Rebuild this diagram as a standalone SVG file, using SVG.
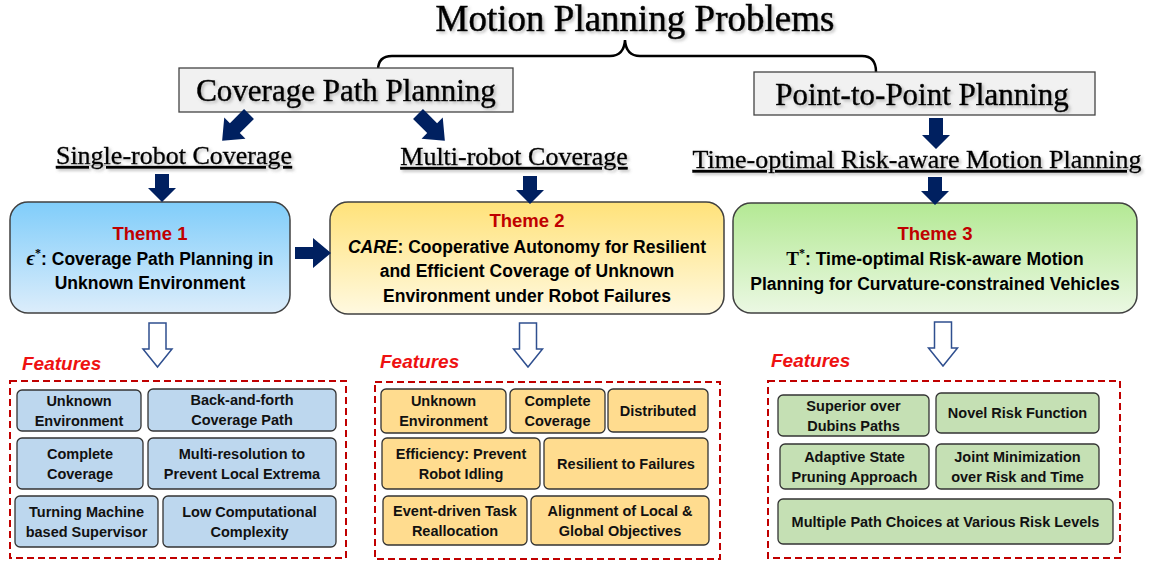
<svg xmlns="http://www.w3.org/2000/svg" width="1157" height="561" viewBox="0 0 1157 561">
<defs>
  <linearGradient id="gBlue" x1="0" y1="0" x2="0" y2="1">
    <stop offset="0" stop-color="#80cdfa"/><stop offset="1" stop-color="#dcedfb"/>
  </linearGradient>
  <linearGradient id="gYellow" x1="0" y1="0" x2="0" y2="1">
    <stop offset="0" stop-color="#ffe27a"/><stop offset="1" stop-color="#fff9e0"/>
  </linearGradient>
  <linearGradient id="gGreen" x1="0" y1="0" x2="0" y2="1">
    <stop offset="0" stop-color="#b4e994"/><stop offset="1" stop-color="#ebf8e3"/>
  </linearGradient>
  <filter id="shadow" x="-5%" y="-20%" width="115%" height="150%">
    <feDropShadow dx="2" dy="2" stdDeviation="1.5" flood-color="#777" flood-opacity="0.45"/>
  </filter>
  <polygon id="darrow" points="-7,0 7,0 7,14 14,14 0,28 -14,14 -7,14"/>
  <polygon id="hollow" points="-8.5,0 8.5,0 8.5,26 14.5,26 0,44 -14.5,26 -8.5,26"/>
</defs>
<style>
  .serif { font-family: "Liberation Serif", "Times New Roman", serif; fill: #000; stroke: #000; stroke-width: 0.6; }
  .hdr { font-family: "Liberation Serif", serif; font-size: 31px; text-anchor: middle; stroke: #000; stroke-width: 0.5; }
  .sub { font-family: "Liberation Serif", serif; font-size: 26px; text-anchor: middle; text-decoration: underline; stroke: #000; stroke-width: 0.4; }
  .cat { fill: #f1f1f1; stroke: #444; stroke-width: 1.3; }
  .navy { fill: #002060; }
  .hol { fill: #fff; stroke: #2f4f8f; stroke-width: 1.5; }
  .theme { stroke: #404040; stroke-width: 1.5; }
  .tt { font-family: "Liberation Sans", Arial, sans-serif; font-weight: bold; font-size: 17.5px; text-anchor: middle; fill: #000; }
  .tl { fill: #c00000; font-size: 18.5px; }
  .feat { font-family: "Liberation Sans", Arial, sans-serif; font-weight: bold; font-style: italic; font-size: 19px; fill: #ee1111; }
  .dash { fill: none; stroke: #c00000; stroke-width: 2; stroke-dasharray: 7 4; }
  .fb { stroke: #333; stroke-width: 1.3; }
  .blue { fill: #bdd7ee; }
  .yel { fill: #ffdc8f; }
  .grn { fill: #c5e0b4; }
  .ft { font-family: "Liberation Sans", Arial, sans-serif; font-weight: bold; font-size: 14.5px; text-anchor: middle; fill: #111; }
</style>

<g id="title">
  <text x="635" y="31" class="serif" font-size="37" text-anchor="middle" filter="url(#shadow)">Motion Planning Problems</text>
  <path d="M378,70 Q378,56 392,56 L610,56 Q624,56 625,40 Q626,56 640,56 L862,56 Q876,56 876,72" fill="none" stroke="#000" stroke-width="2.5"/>
</g>

<g id="coverage-path-planning">
  <rect x="179" y="68" width="334" height="44" class="cat"/>
  <text x="346" y="101" class="hdr" filter="url(#shadow)">Coverage Path Planning</text>
</g>
<g id="point-to-point-planning">
  <rect x="754" y="72" width="341" height="43" class="cat"/>
  <text x="922" y="105" class="hdr" filter="url(#shadow)">Point-to-Point Planning</text>
</g>

<g id="single-robot"><text x="174" y="164" class="sub" filter="url(#shadow)">Single-robot Coverage</text></g>
<g id="multi-robot"><text x="514" y="165" class="sub" filter="url(#shadow)">Multi-robot Coverage</text></g>
<g id="time-optimal"><text x="917" y="168" class="sub" filter="url(#shadow)">Time-optimal Risk-aware Motion Planning</text></g>

<g id="theme1">
  <rect x="10" y="202" width="280" height="111" rx="18" fill="url(#gBlue)" class="theme"/>
  <text x="150" y="240" class="tt tl">Theme 1</text>
  <text x="150" y="265" class="tt"><tspan font-family="Liberation Serif, serif" font-style="italic" font-size="20">ϵ</tspan><tspan font-family="Liberation Serif, serif" font-size="12" dy="-8">*</tspan><tspan dy="8">: Coverage Path Planning in</tspan></text>
  <text x="150" y="289" class="tt">Unknown Environment</text>
</g>
<g id="theme2">
  <rect x="330" y="202" width="394" height="112" rx="18" fill="url(#gYellow)" class="theme"/>
  <text x="527" y="227" class="tt tl">Theme 2</text>
  <text x="527" y="253" class="tt"><tspan font-style="italic">CARE</tspan>: Cooperative Autonomy for Resilient</text>
  <text x="527" y="277" class="tt">and Efficient Coverage of Unknown</text>
  <text x="527" y="302" class="tt">Environment under Robot Failures</text>
</g>
<g id="theme3">
  <rect x="733" y="203" width="404" height="110" rx="18" fill="url(#gGreen)" class="theme"/>
  <text x="935" y="240" class="tt tl">Theme 3</text>
  <text x="935" y="265" class="tt"><tspan font-family="Liberation Serif, serif" font-size="19">T</tspan><tspan font-family="Liberation Serif, serif" font-size="12" dy="-8">*</tspan><tspan dy="8">: Time-optimal Risk-aware Motion</tspan></text>
  <text x="935" y="290" class="tt">Planning for Curvature-constrained Vehicles</text>
</g>

<g id="connectors">
  <polygon class="navy" transform="translate(249,114) rotate(45)" points="-7,0 7,0 7,20 15,20 0,38 -15,20 -7,20"/>
  <polygon class="navy" transform="translate(418,114) rotate(-45)" points="-7,0 7,0 7,20 15,20 0,38 -15,20 -7,20"/>
  <polygon class="navy" points="929,118 943,118 943,135 950,135 936,149 922,135 929,135"/>
  <use href="#darrow" class="navy" x="162" y="174"/>
  <use href="#darrow" class="navy" x="530" y="176"/>
  <use href="#darrow" class="navy" x="935" y="177"/>
  <polygon class="navy" points="295,247 313,247 313,238 331,253 313,268 313,259 295,259"/>
  <use href="#hollow" class="hol" x="157.5" y="323"/>
  <use href="#hollow" class="hol" x="528" y="323"/>
  <use href="#hollow" class="hol" x="943" y="322"/>
</g>

<g id="features1">
  <text x="22" y="370" class="feat">Features</text>
  <rect x="10" y="381" width="336" height="177" class="dash"/>
  <rect x="17" y="390" width="124" height="41" rx="5" class="fb blue"/>
  <text x="79" y="406" class="ft">Unknown</text><text x="79" y="426" class="ft">Environment</text>
  <rect x="148" y="389" width="188" height="42" rx="5" class="fb blue"/>
  <text x="242" y="405" class="ft">Back-and-forth</text><text x="242" y="425" class="ft">Coverage Path</text>
  <rect x="17" y="438" width="126" height="51" rx="5" class="fb blue"/>
  <text x="80" y="459" class="ft">Complete</text><text x="80" y="479" class="ft">Coverage</text>
  <rect x="148" y="438" width="188" height="51" rx="5" class="fb blue"/>
  <text x="242" y="459" class="ft">Multi-resolution to</text><text x="242" y="479" class="ft">Prevent Local Extrema</text>
  <rect x="15" y="496" width="143" height="51" rx="5" class="fb blue"/>
  <text x="86.5" y="517" class="ft">Turning Machine</text><text x="86.5" y="537" class="ft">based Supervisor</text>
  <rect x="163" y="496" width="173" height="51" rx="5" class="fb blue"/>
  <text x="249.5" y="517" class="ft">Low Computational</text><text x="249.5" y="537" class="ft">Complexity</text>
</g>

<g id="features2">
  <text x="380" y="368" class="feat">Features</text>
  <rect x="375" y="382" width="345" height="177" class="dash"/>
  <rect x="381" y="389" width="125" height="44" rx="5" class="fb yel"/>
  <text x="443.5" y="406" class="ft">Unknown</text><text x="443.5" y="426" class="ft">Environment</text>
  <rect x="510" y="389" width="95" height="44" rx="5" class="fb yel"/>
  <text x="557.5" y="406" class="ft">Complete</text><text x="557.5" y="426" class="ft">Coverage</text>
  <rect x="608" y="389" width="100" height="43" rx="5" class="fb yel"/>
  <text x="658" y="416" class="ft">Distributed</text>
  <rect x="382" y="438" width="158" height="51" rx="5" class="fb yel"/>
  <text x="461" y="459" class="ft">Efficiency: Prevent</text><text x="461" y="479" class="ft">Robot Idling</text>
  <rect x="544" y="438" width="164" height="51" rx="5" class="fb yel"/>
  <text x="626" y="469" class="ft">Resilient to Failures</text>
  <rect x="383" y="496" width="144" height="49" rx="5" class="fb yel"/>
  <text x="455" y="516" class="ft">Event-driven Task</text><text x="455" y="536" class="ft">Reallocation</text>
  <rect x="531" y="496" width="178" height="49" rx="5" class="fb yel"/>
  <text x="620" y="516" class="ft">Alignment of Local &amp;</text><text x="620" y="536" class="ft">Global Objectives</text>
</g>

<g id="features3">
  <text x="771" y="367" class="feat">Features</text>
  <rect x="768" y="381" width="352" height="177" class="dash"/>
  <rect x="778" y="395" width="151" height="41" rx="5" class="fb grn"/>
  <text x="853.5" y="411" class="ft">Superior over</text><text x="853.5" y="431" class="ft">Dubins Paths</text>
  <rect x="936" y="393" width="163" height="40" rx="5" class="fb grn"/>
  <text x="1017.5" y="418" class="ft">Novel Risk Function</text>
  <rect x="780" y="444" width="149" height="45" rx="5" class="fb grn"/>
  <text x="854.5" y="462" class="ft">Adaptive State</text><text x="854.5" y="482" class="ft">Pruning Approach</text>
  <rect x="936" y="444" width="163" height="45" rx="5" class="fb grn"/>
  <text x="1017.5" y="462" class="ft">Joint Minimization</text><text x="1017.5" y="482" class="ft">over Risk and Time</text>
  <rect x="778" y="499" width="335" height="45" rx="5" class="fb grn"/>
  <text x="945.5" y="527" class="ft">Multiple Path Choices at Various Risk Levels</text>
</g>
</svg>
